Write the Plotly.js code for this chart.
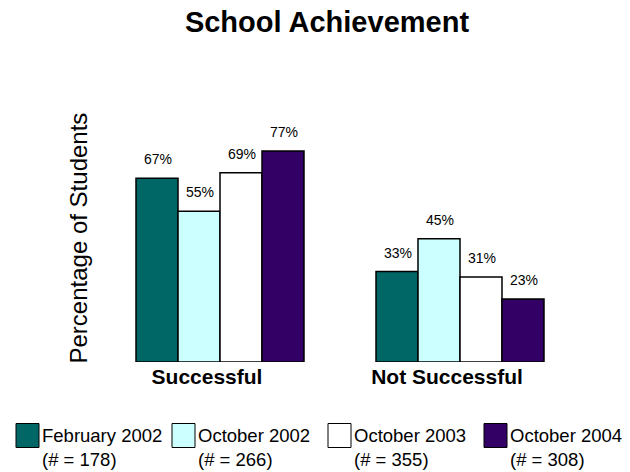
<!DOCTYPE html>
<html>
<head>
<meta charset="utf-8">
<script src="https://cdn.plot.ly/plotly-3.0.1.min.js"></script>
<style>html,body{margin:0;padding:0;background:#fff;}#chart{width:630px;height:472px;}</style>
</head>
<body>
<div id="chart"></div>
<script>
const categories = ['Successful', 'Not Successful'];
const seriesNames = ['February 2002', 'October 2002', 'October 2003', 'October 2004'];
const seriesCounts = [178, 266, 355, 308];
const feb2002 = [67, 33];
const oct2002 = [55, 45];
const oct2003 = [69, 31];
const oct2004 = [77, 23];
const seriesColors = ['#006666', '#CCFFFF', '#FFFFFF', '#330066'];
const yAxisTitle = 'Percentage of Students';

const seriesValues = [feb2002, oct2002, oct2003, oct2004];
const FONT = 'Liberation Sans, Arial, sans-serif';

const traces = seriesValues.map((vals, i) => ({
  type: 'bar',
  name: seriesNames[i],
  x: categories,
  y: vals,
  marker: {color: seriesColors[i], line: {color: '#000000', width: 1.5}},
  hoverinfo: 'x+y+name',
  showlegend: false
}));

const annotations = [];
// data labels
seriesValues.forEach((vals, i) => {
  vals.forEach((v, j) => {
    annotations.push({
      x: categories[j], y: v, xref: 'x', yref: 'y',
      text: v + '%', showarrow: false,
      xshift: (i - 1.5) * 42 + 1, yshift: 19, yanchor: 'middle',
      font: {family: FONT, size: 14, color: '#000'}
    });
  });
});

// custom legend
const plotL = 100, plotW = 480, base = 362.5, plotH = 233;
const px = p => (p - plotL) / plotW;
const py = p => (base - p) / plotH;
const shapes = [];
seriesNames.forEach((name, i) => {
  const x0 = 16 + i * 156;
  shapes.push({
    type: 'rect', xref: 'paper', yref: 'paper',
    x0: px(x0), x1: px(x0 + 23), y0: py(448), y1: py(424),
    fillcolor: seriesColors[i], line: {color: '#000', width: 1}
  });
  annotations.push({
    xref: 'paper', yref: 'paper', x: px(x0 + 24), y: py(447.5),
    xanchor: 'left', yanchor: 'middle', align: 'left', showarrow: false,
    text: name + '<br>(# = ' + seriesCounts[i] + ')',
    font: {family: FONT, size: 18.5, color: '#000'}
  });
});

// y-axis title (placed as rotated text to match reference position)
annotations.push({
  xref: 'paper', yref: 'paper', x: px(78), y: py(239),
  xanchor: 'center', yanchor: 'middle', textangle: -90, showarrow: false,
  text: yAxisTitle, font: {family: FONT, size: 24, color: '#000'}
});

const layout = {
  width: 630, height: 472,
  margin: {l: 100, r: 50, t: 129, b: 110},
  paper_bgcolor: '#fff', plot_bgcolor: '#fff',
  barmode: 'group', bargap: 0.3, bargroupgap: 0,
  title: {text: '<b>School Achievement</b>', xref: 'container', x: 0.519, xanchor: 'center',
          yref: 'container', y: 0.953, yanchor: 'middle',
          font: {family: FONT, size: 29, color: '#000'}},
  xaxis: {type: 'category', showgrid: false, zeroline: false, showline: false, ticks: '',
          tickfont: {family: FONT, size: 21, color: '#000'}, tickprefix: '<b>', ticksuffix: '</b>',
          ticklabelshift: -13, fixedrange: true},
  yaxis: {range: [0, 85], showgrid: false, zeroline: false, showline: false, showticklabels: false,
          ticks: ''},
  annotations: annotations,
  shapes: shapes,
  showlegend: false
};

Plotly.newPlot('chart', traces, layout, {displayModeBar: false, staticPlot: true});
</script>
</body>
</html>
